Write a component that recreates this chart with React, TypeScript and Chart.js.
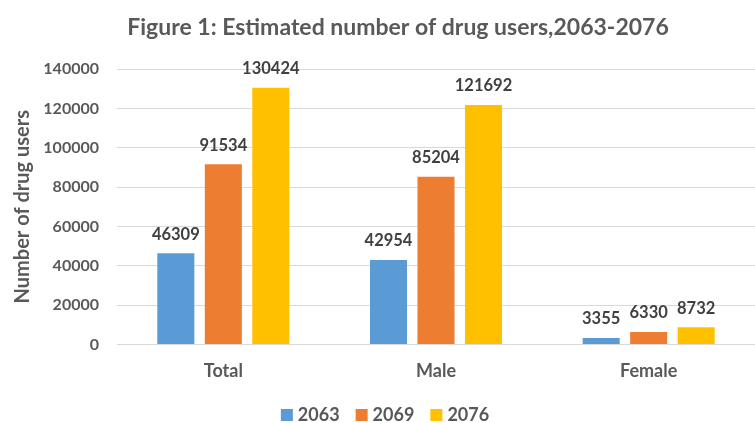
import React, { useEffect, useRef } from "react";
import { Chart, registerables } from "chart.js";

Chart.register(...registerables);

const categories = ["Total", "Male", "Female"];
const seriesNames = ["2063", "2069", "2076"];
const values2063 = [46309, 42954, 3355];
const values2069 = [91534, 85204, 6330];
const values2076 = [130424, 121692, 8732];
const seriesColors = ["#5B9BD5", "#ED7D31", "#FFC000"];
const titleText = "Figure 1: Estimated number of drug users,2063-2076";
const yAxisTitle = "Number of drug users";
const yMax = 140000;
const yStep = 20000;

const FONT = "Lato, 'Open Sans', sans-serif";
const GRAY = "#595959";
const DARK = "#404040";

const titlePlugin = {
  id: "customTitle",
  afterDraw(chart: any) {
    const ctx = chart.ctx;
    ctx.save();
    ctx.font = `bold 23px ${FONT}`;
    ctx.fillStyle = GRAY;
    ctx.textAlign = "center";
    ctx.textBaseline = "middle";
    ctx.fillText(titleText, 398, 28);
    ctx.restore();
  },
};

const dataLabelPlugin = {
  id: "dataLabels",
  afterDatasetsDraw(chart: any) {
    const ctx = chart.ctx;
    ctx.save();
    ctx.font = `bold 16.5px ${FONT}`;
    ctx.fillStyle = DARK;
    ctx.textAlign = "center";
    ctx.textBaseline = "middle";
    chart.data.datasets.forEach((ds: any, i: number) => {
      const meta = chart.getDatasetMeta(i);
      meta.data.forEach((bar: any, j: number) => {
        ctx.fillText(String(ds.data[j]), bar.x, bar.y - 19);
      });
    });
    ctx.restore();
  },
};

const legendPlugin = {
  id: "customLegend",
  afterDraw(chart: any) {
    const ctx = chart.ctx;
    ctx.save();
    ctx.font = `bold 18px ${FONT}`;
    ctx.textBaseline = "middle";
    ctx.textAlign = "left";
    const box = 12;
    const gapBox = 5;
    const gapItem = 16;
    const items = chart.data.datasets.map((ds: any) => ({
      label: ds.label,
      color: ds.backgroundColor,
      w: ctx.measureText(ds.label).width,
    }));
    const total =
      items.reduce((s: number, it: any) => s + box + gapBox + it.w, 0) +
      gapItem * (items.length - 1);
    let x = 385 - total / 2;
    const cy = 415;
    items.forEach((it: any) => {
      ctx.fillStyle = it.color;
      ctx.fillRect(x, cy - box / 2, box, box);
      x += box + gapBox;
      ctx.fillStyle = GRAY;
      ctx.fillText(it.label, x, cy);
      x += it.w + gapItem;
    });
    ctx.restore();
  },
};

export default function App() {
  const canvasRef = useRef<HTMLCanvasElement | null>(null);

  useEffect(() => {
    if (!canvasRef.current) return;
    const datasets = [values2063, values2069, values2076].map((vals, i) => ({
      label: seriesNames[i],
      data: vals,
      backgroundColor: seriesColors[i],
      borderWidth: 0,
      categoryPercentage: 0.67,
      barPercentage: 0.78,
    }));
    const chart = new Chart(canvasRef.current, {
      type: "bar",
      data: { labels: categories, datasets },
      options: {
        animation: false,
        responsive: true,
        maintainAspectRatio: false,
        layout: { padding: { top: 69, right: 0, bottom: 0, left: 0 } },
        plugins: {
          legend: { display: false },
          title: { display: false },
          tooltip: { enabled: false },
        },
        scales: {
          x: {
            grid: { display: false, drawTicks: false },
            border: { display: true, color: "#D9D9D9", width: 1 },
            ticks: {
              padding: 16,
              color: GRAY,
              font: { family: FONT, size: 18, weight: "bold" },
            },
            afterFit: (scale: any) => {
              scale.height = 78.5;
            },
          },
          y: {
            min: 0,
            max: yMax,
            ticks: {
              stepSize: yStep,
              padding: 18,
              color: GRAY,
              font: { family: FONT, size: 16, weight: "bold" },
              callback: (v: any) => String(v),
            },
            grid: { color: "#D9D9D9", drawTicks: false, lineWidth: 1 },
            border: { display: false },
            title: {
              display: true,
              text: yAxisTitle,
              color: GRAY,
              padding: { top: 11, bottom: 0 },
              font: { family: FONT, size: 20, weight: "bold" },
            },
            afterFit: (scale: any) => {
              scale.width = 117;
            },
          },
        },
      },
      plugins: [titlePlugin, dataLabelPlugin, legendPlugin],
    });
    return () => chart.destroy();
  }, []);

  return (
    <div style={{ position: "fixed", left: 0, top: 0, width: 755, height: 423, background: "#fff" }}>
      <canvas ref={canvasRef} />
    </div>
  );
}
